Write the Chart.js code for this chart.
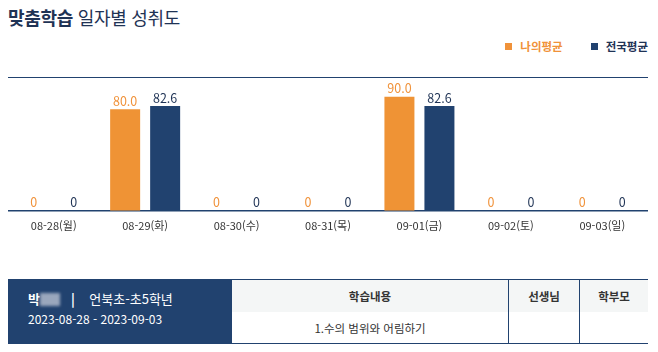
<!DOCTYPE html>
<html lang="ko">
<head>
<meta charset="utf-8">
<script src="https://cdn.jsdelivr.net/npm/chart.js@4.4.1/dist/chart.umd.min.js"></script>
<style>
  html, body { margin:0; padding:0; background:#fff; }
  body { width:658px; height:352px; position:relative; overflow:hidden;
         font-family:"Noto Sans CJK KR","Noto Sans",sans-serif; color:#333; }
  .title { position:absolute; left:8px; top:4px; font-size:18px; color:#1f3355; letter-spacing:-0.3px; }
  .title b { font-weight:700; }
  .legend { position:absolute; top:38px; right:10px; font-size:11.5px; font-weight:700; display:flex; gap:28px; }
  .legend span { display:flex; align-items:center; }
  .legend i { display:inline-block; width:7px; height:7px; margin-right:8px; }
  .topline { position:absolute; left:8px; top:77px; width:640px; height:0; border-top:1.5px solid #21426f; }
  .wrap { position:absolute; left:8px; top:78px; width:640px; height:154px; }
  .info { position:absolute; left:8px; top:279px; width:224px; height:65px; background:#21426f; color:#fff; }
  .info .n { position:absolute; left:20px; top:10px; font-size:13px; }
  .info .n b { font-weight:700; }
  .info .blur { display:inline-block; width:20px; height:13px; background:#9aa7bd; filter:blur(1.5px); vertical-align:-2px; }
  .info .d { position:absolute; left:20px; top:31px; font-size:12px; }
  table { position:absolute; left:232px; top:279px; width:416px; height:65px; border-collapse:collapse;
          font-size:11.5px; color:#333; }
  td, th { border:1.5px solid #21426f; text-align:center; padding:0; }
  th { background:#f4f6f6; font-weight:700; height:32px; }
  td:first-child, th:first-child { border-left:none; }
  td:last-child, th:last-child { border-right:none; }
  th:first-child, td:first-child { width:276px; }
  th:nth-child(2), td:nth-child(2) { width:70px; }
  tr:first-child th { border-bottom:none; }
  tr:last-child td { border-top:none; }
</style>
</head>
<body>
<div class="title"><b>맞춤학습</b> 일자별 성취도</div>
<div class="legend">
  <span style="color:#f0923a"><i style="background:#f0923a"></i>나의평균</span>
  <span style="color:#1f3355"><i style="background:#21426f"></i>전국평균</span>
</div>
<div class="topline"></div>
<div class="wrap"><canvas id="barChart"></canvas></div>

<div class="info">
  <div class="n"><b>박</b><span class="blur"></span>&nbsp;&nbsp;&nbsp;<b>|</b>&nbsp;&nbsp;&nbsp; 언북초-초5학년</div>
  <div class="d">2023-08-28 - 2023-09-03</div>
</div>
<table>
  <tr><th>학습내용</th><th>선생님</th><th>학부모</th></tr>
  <tr><td>1.수의 범위와 어림하기</td><td></td><td></td></tr>
</table>

<script>
const DAYS     = ["08-28(월)","08-29(화)","08-30(수)","08-31(목)","09-01(금)","09-02(토)","09-03(일)"];
const MY_AVG   = [0, 80.0, 0, 0, 90.0, 0, 0];
const NAT_AVG  = [0, 82.6, 0, 0, 82.6, 0, 0];
const ORANGE = "#ef9335", NAVY = "#21426f";

function fmtVal(v) { return v ? v.toFixed(1) : "0"; }

// values drawn above each bar
const valueLabels = {
  id: "valueLabels",
  afterDatasetsDraw(chart) {
    const ctx = chart.ctx;
    ctx.save();
    ctx.font = "12.5px 'Noto Sans CJK KR', sans-serif";
    ctx.textAlign = "center"; ctx.textBaseline = "bottom";
    chart.data.datasets.forEach((ds, di) => {
      chart.getDatasetMeta(di).data.forEach((bar, idx) => {
        ctx.fillStyle = di === 0 ? "#f0923a" : "#1f3355";
        ctx.fillText(fmtVal(ds.data[idx]), bar.x, bar.y - 2);
      });
    });
    ctx.restore();
  }
};

new Chart(document.getElementById("barChart").getContext("2d"), {
  type: "bar",
  data: {
    labels: DAYS,
    datasets: [
      { label:"나의평균", data:MY_AVG,  backgroundColor:ORANGE, borderWidth:0, barPercentage:0.75, categoryPercentage:0.875 },
      { label:"전국평균", data:NAT_AVG, backgroundColor:NAVY,   borderWidth:0, barPercentage:0.75, categoryPercentage:0.875 }
    ]
  },
  options: {
    responsive:true, maintainAspectRatio:false, animation:false,
    layout: { padding: { top:6, bottom:0, left:0, right:0 } },
    plugins: { legend:{ display:false }, tooltip:{ enabled:false } },
    scales: {
      x: {
        grid: { display:false },
        border: { display:true, color:NAVY, width:1.5 },
        ticks: { color:"#333", padding:0, font:{ size:11, family:"'Noto Sans CJK KR', sans-serif" } }
      },
      y: { display:false, min:0, max:100 }
    }
  },
  plugins: [valueLabels]
});
</script>
</body>
</html>
